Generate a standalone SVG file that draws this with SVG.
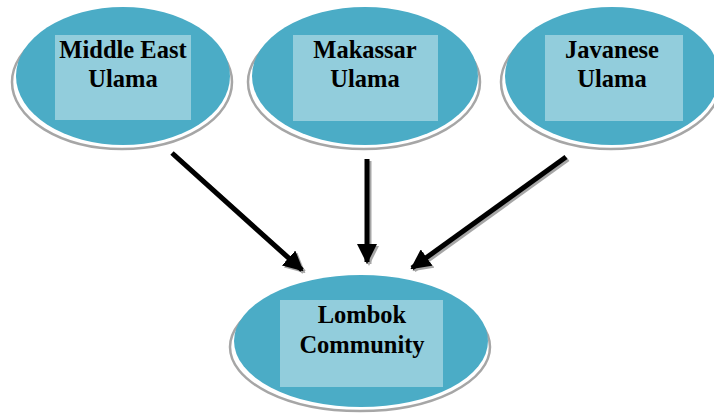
<svg xmlns="http://www.w3.org/2000/svg" width="714" height="418" viewBox="0 0 714 418">
<style>
.sh{fill:#fff;stroke:#a6a6a6;stroke-width:2.5}
.el{fill:#4bacc6}
.bx{fill:#92cddc}
.t{font-family:"Liberation Serif",serif;font-weight:bold;font-size:24.5px;fill:#000;text-anchor:middle}
.ln{stroke:#000;stroke-width:5;fill:none;marker-end:url(#ah)}
.ls{stroke:#a6a6a6;stroke-width:5;fill:none;marker-end:url(#ahs)}
</style>
<defs>
<marker id="ah" viewBox="0 0 10 10" refX="9" refY="5" markerWidth="4" markerHeight="4" orient="auto" markerUnits="strokeWidth"><path d="M0,0L10,5L0,10z" fill="#000"/></marker>
<marker id="ahs" viewBox="0 0 10 10" refX="9" refY="5" markerWidth="4" markerHeight="4" orient="auto" markerUnits="strokeWidth"><path d="M0,0L10,5L0,10z" fill="#a6a6a6"/></marker>
</defs>
<g id="connectors">
<line class="ls" x1="174" y1="155" x2="304" y2="272"/>
<line class="ls" x1="369" y1="161" x2="369" y2="264"/>
<line class="ls" x1="568" y1="159" x2="414" y2="270"/>
<line class="ln" x1="172" y1="153" x2="302" y2="270"/>
<line class="ln" x1="367" y1="159" x2="367" y2="262"/>
<line class="ln" x1="566" y1="157" x2="412" y2="268"/>
</g>
<g id="middle-east">
<ellipse class="sh" cx="122" cy="82" rx="110" ry="67"/>
<ellipse class="el" cx="123" cy="76" rx="107" ry="69"/>
<rect class="bx" x="55" y="35" width="136" height="85"/>
<text class="t" x="123" y="58">Middle East</text>
<text class="t" x="123" y="87">Ulama</text>
</g>
<g id="makassar">
<ellipse class="sh" cx="364" cy="82" rx="116" ry="67"/>
<ellipse class="el" cx="365" cy="76" rx="113" ry="69"/>
<rect class="bx" x="293" y="35" width="145" height="86"/>
<text class="t" x="365" y="58">Makassar</text>
<text class="t" x="365" y="87">Ulama</text>
</g>
<g id="javanese">
<ellipse class="sh" cx="611" cy="82" rx="110" ry="67"/>
<ellipse class="el" cx="612" cy="76" rx="107" ry="69"/>
<rect class="bx" x="545" y="35" width="138" height="86"/>
<text class="t" x="612" y="58">Javanese</text>
<text class="t" x="612" y="87">Ulama</text>
</g>
<g id="lombok">
<ellipse class="sh" cx="360" cy="347" rx="130" ry="64"/>
<ellipse class="el" cx="361" cy="341" rx="127" ry="66"/>
<rect class="bx" x="280" y="300" width="163" height="87"/>
<text class="t" x="362" y="323">Lombok</text>
<text class="t" x="362" y="353">Community</text>
</g>
</svg>
